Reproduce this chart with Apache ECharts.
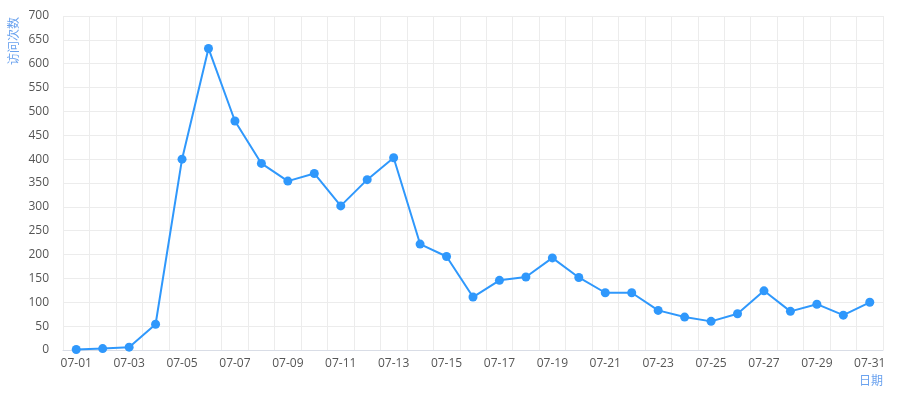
<!DOCTYPE html>
<html><head><meta charset="utf-8">
<script src="https://cdn.jsdelivr.net/npm/echarts@6/dist/echarts.min.js"></script>
<style>html,body{margin:0;padding:0;background:#fff}#c{width:900px;height:395px}</style>
</head><body><div id="c"></div>
<script>
var dates = ['07-01','07-02','07-03','07-04','07-05','07-06','07-07','07-08','07-09','07-10','07-11','07-12','07-13','07-14','07-15','07-16','07-17','07-18','07-19','07-20','07-21','07-22','07-23','07-24','07-25','07-26','07-27','07-28','07-29','07-30','07-31'];
var visits = [1,3,6,54,400,632,480,391,354,370,302,357,403,222,196,111,146,153,193,152,120,120,83,69,60,76,124,81,96,73,100];
var yTicks = {min:0, max:700, interval:50};
var ff = "'Open Sans','Noto Sans CJK SC',sans-serif";
var chart = echarts.init(document.getElementById('c'));
chart.setOption({
  animation:false,
  grid:{left:63,right:17,top:16,bottom:45,containLabel:false},
  xAxis:{
    type:'category', data:dates, boundaryGap:true,
    name:'日期', nameLocation:'end', nameGap:0,
    nameTextStyle:{color:'#6aa2ef',fontSize:12,fontFamily:ff,align:'right',verticalAlign:'top',padding:[26,0,0,0]},
    axisLine:{lineStyle:{color:'#d9dde6'}},
    axisTick:{interval:0,lineStyle:{color:'#d9dde6'}},
    axisLabel:{interval:1,color:'#555',fontSize:12,fontFamily:ff,margin:8},
    splitLine:{show:true,interval:0,lineStyle:{color:'#ececec'}}
  },
  yAxis:{
    type:'value', min:yTicks.min, max:yTicks.max, interval:yTicks.interval,
    name:'访问次数', nameLocation:'end', nameGap:-1, nameRotate:90,
    nameTextStyle:{color:'#6aa2ef',fontSize:12,fontFamily:ff,align:'right',verticalAlign:'bottom',padding:[0,0,42,0]},
    axisLine:{show:false}, axisTick:{show:false},
    axisLabel:{color:'#555',fontSize:12,fontFamily:ff,margin:14},
    splitLine:{show:true,lineStyle:{color:'#ececec'}}
  },
  series:[{
    type:'line', data:visits, symbol:'circle', symbolSize:9,
    lineStyle:{width:2,color:'#2f98fc'}, itemStyle:{color:'#2f98fc'}
  }]
});
</script></body></html>
